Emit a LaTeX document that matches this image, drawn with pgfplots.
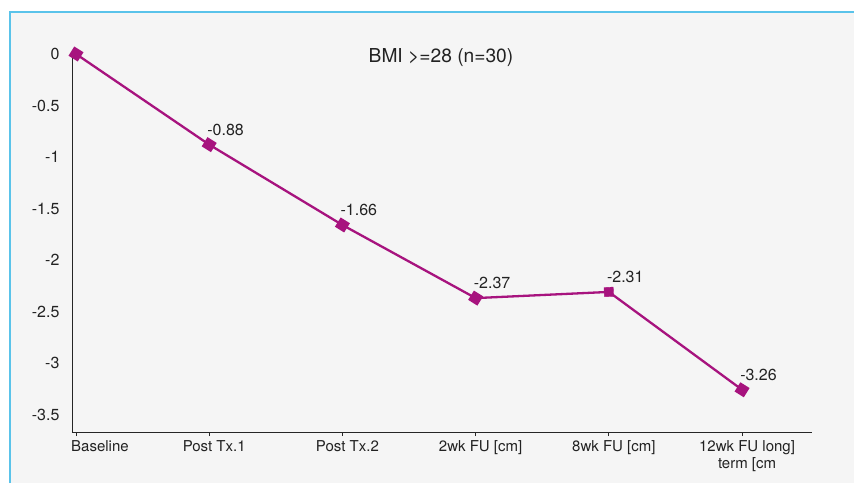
\documentclass[border=0pt]{standalone}
\usepackage{pgfplots}
\pgfplotsset{compat=1.18}
\usepackage{fontspec}
\setmainfont{TeX Gyre Heros}
\definecolor{bgc}{HTML}{F5F5F5}
\definecolor{frame}{HTML}{5AC3EA}
\definecolor{linec}{HTML}{A7137E}
\definecolor{txt}{HTML}{222222}
\begin{document}
\begin{tikzpicture}[x=1pt,y=1pt]
\useasboundingbox (0,0) rectangle (854,483);
\fill[white] (0,0) rectangle (854,483);
\fill[bgc] (10,0) rectangle (854,471);
\draw[frame, line width=2.2pt] (10,0) -- (10,471) -- (854,471);
\begin{axis}[
  at={(72pt,51pt)}, anchor=south west,
  scale only axis, width=740pt, height=378pt,
  xmin=-0.03, xmax=5.525, ymin=-3.67, ymax=0,
  axis lines*=left,
  axis line style={black!85, line width=0.8pt},
  xtick={0,1,2,3,4,5},
  xticklabels={\hspace*{38pt}Baseline, Post Tx.1, Post Tx.2, 2wk FU [cm], 8wk FU [cm], {12wk FU long]\\term [cm}},
  xticklabel style={font=\fontsize{15}{17}\selectfont, text=txt, align=center, xshift=5pt, yshift=-1pt},
  ytick={0,-0.5,-1,-1.5,-2,-2.5,-3,-3.5},
  yticklabels={0,-0.5,-1,-1.5,-2,-2.5,-3,-3.5},
  yticklabel style={font=\fontsize{16}{18}\selectfont, text=txt, anchor=east, xshift=-5pt},
  tick align=outside,
  x tick style={black!85, line width=0.8pt},
  major tick length=4pt,
  y tick style={draw=none},
  clip=false,
]
\addplot[linec, line width=2.3pt, mark=square*, mark size=4.3pt,
  mark indices={1,2,3,4,6}, mark options={rotate=-32, solid, fill=linec}]
  coordinates {(0,0) (1,-0.88) (2,-1.66) (3,-2.37) (4,-2.31) (5,-3.26)};
\addplot[linec, only marks, mark=square*, mark size=4.6pt, mark indices={5},
  mark options={rotate=3, fill=linec}]
  coordinates {(0,0) (1,-0.88) (2,-1.66) (3,-2.37) (4,-2.31) (5,-3.26)};
\addplot[draw=none, point meta=explicit symbolic, nodes near coords,
  every node near coord/.append style={anchor=south west, inner sep=0pt,
    xshift=-2pt, yshift=9pt, font=\fontsize{16}{18}\selectfont, text=txt}]
  coordinates {(1,-0.88) [-0.88] (2,-1.66) [-1.66] (3,-2.37) [-2.37] (4,-2.31) [-2.31] (5,-3.26) [-3.26]};
\end{axis}
\node[text=txt, font=\fontsize{19.2}{22}\selectfont] at (441,425) {BMI >=28 (n=30)};
\end{tikzpicture}
\end{document}
